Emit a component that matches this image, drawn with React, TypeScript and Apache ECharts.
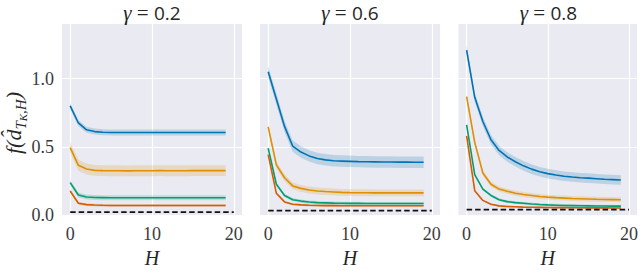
import React, { useEffect, useRef } from 'react';
import * as echarts from 'echarts';

const hSteps = [0, 1, 2, 3, 4, 5, 6, 7, 8, 9, 10, 11, 12, 13, 14, 15, 16, 17, 18, 19];
const gammaLabels = ['0.2', '0.6', '0.8'];
const xTicks = [0, 10, 20];
const yTicks = [0, 0.5, 1.0];
const palette = ['#0173B2', '#DE8F05', '#029E73', '#D55E00'];

// gamma = 0.2
const g02Blue = [0.80, 0.675, 0.625, 0.612, 0.607, 0.605, 0.605, 0.605, 0.605, 0.605, 0.605, 0.605, 0.605, 0.605, 0.605, 0.605, 0.605, 0.605, 0.605, 0.605];
const g02Orange = [0.495, 0.365, 0.338, 0.328, 0.326, 0.325, 0.325, 0.324, 0.325, 0.325, 0.325, 0.326, 0.325, 0.325, 0.325, 0.326, 0.326, 0.326, 0.326, 0.326];
const g02Green = [0.238, 0.148, 0.133, 0.129, 0.128, 0.127, 0.127, 0.127, 0.127, 0.127, 0.127, 0.127, 0.127, 0.127, 0.127, 0.127, 0.127, 0.127, 0.127, 0.127];
const g02Red = [0.177, 0.087, 0.077, 0.074, 0.072, 0.071, 0.071, 0.071, 0.071, 0.071, 0.071, 0.071, 0.071, 0.071, 0.071, 0.071, 0.071, 0.071, 0.071, 0.071];
// gamma = 0.6
const g06Blue = [1.05, 0.85, 0.65, 0.505, 0.462, 0.434, 0.415, 0.405, 0.398, 0.396, 0.394, 0.392, 0.391, 0.390, 0.389, 0.389, 0.388, 0.388, 0.387, 0.387];
const g06Orange = [0.646, 0.368, 0.274, 0.214, 0.196, 0.184, 0.177, 0.173, 0.170, 0.167, 0.165, 0.164, 0.164, 0.163, 0.163, 0.163, 0.163, 0.163, 0.163, 0.163];
const g06Green = [0.49, 0.226, 0.144, 0.113, 0.103, 0.096, 0.092, 0.090, 0.088, 0.087, 0.086, 0.086, 0.085, 0.085, 0.085, 0.085, 0.085, 0.085, 0.085, 0.085];
const g06Red = [0.443, 0.16, 0.097, 0.080, 0.075, 0.072, 0.071, 0.070, 0.070, 0.069, 0.069, 0.069, 0.069, 0.069, 0.069, 0.069, 0.069, 0.069, 0.069, 0.069];
// gamma = 0.8
const g08Blue = [1.209, 0.863, 0.686, 0.552, 0.474, 0.426, 0.391, 0.361, 0.337, 0.318, 0.304, 0.294, 0.285, 0.279, 0.274, 0.271, 0.267, 0.263, 0.260, 0.257];
const g08Orange = [0.868, 0.533, 0.309, 0.226, 0.191, 0.175, 0.160, 0.151, 0.144, 0.137, 0.132, 0.128, 0.125, 0.122, 0.120, 0.118, 0.116, 0.115, 0.114, 0.113];
const g08Green = [0.662, 0.297, 0.191, 0.144, 0.113, 0.099, 0.092, 0.087, 0.082, 0.078, 0.075, 0.073, 0.071, 0.070, 0.069, 0.068, 0.067, 0.067, 0.066, 0.066];
const g08Red = [0.58, 0.179, 0.108, 0.080, 0.068, 0.063, 0.061, 0.059, 0.058, 0.057, 0.056, 0.055, 0.055, 0.054, 0.054, 0.053, 0.053, 0.053, 0.052, 0.052];

// confidence band half-widths per panel (blue, orange, green, red)
const g02Spread = [0.022, 0.04, 0.018, 0.01];
const g06Spread = [0.042, 0.025, 0.012, 0.008];
const g08Spread = [0.035, 0.018, 0.01, 0.006];

// dashed reference level per panel
const baselines = [0.022, 0.033, 0.04];

const panelMeans = [
  [g02Blue, g02Orange, g02Green, g02Red],
  [g06Blue, g06Orange, g06Green, g06Red],
  [g08Blue, g08Orange, g08Green, g08Red],
];
const panelSpreads = [g02Spread, g06Spread, g08Spread];

const gridLefts = [62, 260, 458.5];
const gridTop = 24;
const gridW = 180;
const gridH = 199;

const SERIF = "'Liberation Serif', serif";
const SANS = "'Open Sans', sans-serif";

export default function App() {
  const ref = useRef<HTMLDivElement>(null);
  useEffect(() => {
    if (!ref.current) return;
    const chart = echarts.init(ref.current, null, { renderer: 'svg' });

    const grids: any[] = [];
    const xAxes: any[] = [];
    const yAxes: any[] = [];
    const series: any[] = [];
    const graphics: any[] = [];

    for (let p = 0; p < 3; p++) {
      grids.push({
        left: gridLefts[p], top: gridTop, width: gridW, height: gridH,
        show: true, backgroundColor: '#EAEAF2', borderWidth: 0,
      });
      xAxes.push({
        gridIndex: p, type: 'value', min: -1, max: 21,
        axisLine: { show: false },
        axisTick: { show: false, customValues: xTicks },
        axisLabel: {
          customValues: xTicks, margin: 9, color: '#3a3a3a',
          fontFamily: SERIF, fontSize: 18,
        },
        splitLine: { show: true, lineStyle: { color: '#ffffff', width: 1.2 } },
        name: 'H', nameLocation: 'middle', nameGap: 30,
        nameTextStyle: { fontFamily: SERIF, fontStyle: 'italic', fontSize: 20, color: '#262626' },
      });
      yAxes.push({
        gridIndex: p, type: 'value', min: -0.007, max: 1.4,
        axisLine: { show: false },
        axisTick: { show: false, customValues: yTicks },
        axisLabel: {
          show: p === 0, customValues: yTicks, margin: 8, color: '#3a3a3a',
          fontFamily: SERIF, fontSize: 18,
          formatter: (v: number) => v.toFixed(1),
        },
        splitLine: { show: true, lineStyle: { color: '#ffffff', width: 1.2 } },
      });

      const means = panelMeans[p];
      const spreads = panelSpreads[p];
      for (let k = 0; k < 4; k++) {
        const s = spreads[k];
        const bandData = means[k].map((v, i) => [hSteps[i], v - s, v + s]);
        const color = palette[k];
        series.push({
          type: 'custom', xAxisIndex: p, yAxisIndex: p, silent: true,
          data: bandData,
          encode: { x: 0, y: [1, 2] },
          renderItem: (params: any, api: any) => {
            if (params.dataIndex !== 0) return null;
            const upper = bandData.map((d) => api.coord([d[0], d[2]]));
            const lower = bandData.map((d) => api.coord([d[0], d[1]])).reverse();
            return {
              type: 'polygon',
              shape: { points: upper.concat(lower) },
              style: { fill: color, opacity: 0.2 },
            };
          },
        });
      }
      for (let k = 0; k < 4; k++) {
        series.push({
          type: 'line', xAxisIndex: p, yAxisIndex: p,
          data: means[k].map((v, i) => [hSteps[i], v]),
          symbol: 'none', silent: true,
          lineStyle: { color: palette[k], width: 1.6 },
        });
      }
      series.push({
        type: 'line', xAxisIndex: p, yAxisIndex: p,
        data: [[xTicks[0], baselines[p]], [xTicks[2], baselines[p]]],
        symbol: 'none', silent: true,
        lineStyle: { color: '#111111', width: 1.7, type: [5.5, 3] },
      });

      graphics.push({
        type: 'text',
        x: gridLefts[p] + gridW / 2, y: 13,
        style: {
          text: '{g|γ}{e| = }{n|' + gammaLabels[p] + '}',
          align: 'center', verticalAlign: 'middle',
          rich: {
            g: { fontFamily: SERIF, fontStyle: 'italic', fontSize: 21, lineHeight: 22, fill: '#262626' },
            e: { fontFamily: SERIF, fontStyle: 'normal', fontSize: 21, lineHeight: 22, fill: '#262626' },
            n: { fontFamily: SANS, fontStyle: 'normal', fontSize: 19, lineHeight: 22, fill: '#262626' },
          },
        },
      });
    }

    graphics.push({
      type: 'text',
      x: 13, y: 123,
      rotation: Math.PI / 2,
      style: {
        text: '{a|f(}{b|d\u0302}{s|T}{t|K}{s|,H}{a|)}',
        align: 'center', verticalAlign: 'middle',
        rich: {
          a: { fontFamily: SERIF, fontStyle: 'italic', fontSize: 22, lineHeight: 30, verticalAlign: 'middle', fill: '#262626' },
          b: { fontFamily: SERIF, fontStyle: 'italic', fontSize: 22, lineHeight: 30, verticalAlign: 'middle', fill: '#262626' },
          s: { fontFamily: SERIF, fontStyle: 'italic', fontSize: 15, lineHeight: 22, verticalAlign: 'bottom', fill: '#262626' },
          t: { fontFamily: SERIF, fontStyle: 'italic', fontSize: 11, lineHeight: 16, verticalAlign: 'bottom', fill: '#262626' },
        },
      },
    });

    chart.setOption({
      animation: false,
      grid: grids,
      xAxis: xAxes,
      yAxis: yAxes,
      series,
      graphic: graphics,
    });
    return () => chart.dispose();
  }, []);

  return (
    <div
      ref={ref}
      style={{ position: 'fixed', left: 0, top: 0, width: 641, height: 273, background: '#ffffff' }}
    />
  );
}
